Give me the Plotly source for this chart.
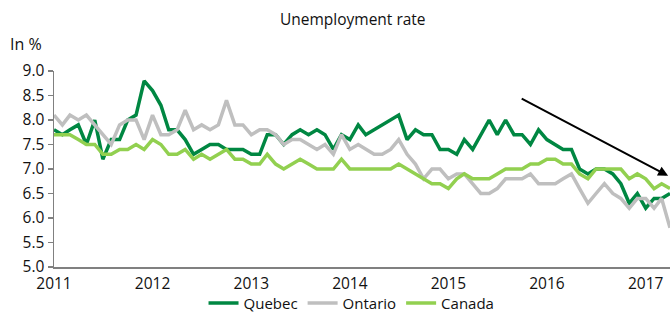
import plotly.graph_objects as go
import pandas as pd

# Monthly observations, January 2011 to April 2017
months = pd.date_range("2011-01-01", "2017-04-01", freq="MS").strftime("%Y-%m-%d").tolist()

quebec = [7.8, 7.7, 7.8, 7.9, 7.5, 8.0, 7.2, 7.6, 7.6, 8.0, 8.1, 8.8,
          8.6, 8.3, 7.8, 7.8, 7.6, 7.3, 7.4, 7.5, 7.5, 7.4, 7.4, 7.4,
          7.3, 7.3, 7.7, 7.7, 7.5, 7.7, 7.8, 7.7, 7.8, 7.7, 7.4, 7.7,
          7.6, 7.9, 7.7, 7.8, 7.9, 8.0, 8.1, 7.6, 7.8, 7.7, 7.7, 7.4,
          7.4, 7.3, 7.6, 7.4, 7.7, 8.0, 7.7, 8.0, 7.7, 7.7, 7.5, 7.8,
          7.6, 7.5, 7.4, 7.4, 7.0, 6.9, 7.0, 7.0, 6.9, 6.7, 6.3, 6.5,
          6.2, 6.4, 6.4, 6.5]

ontario = [8.1, 7.9, 8.1, 8.0, 8.1, 7.9, 7.7, 7.5, 7.9, 8.0, 8.0, 7.6,
           8.1, 7.7, 7.7, 7.8, 8.2, 7.8, 7.9, 7.8, 7.9, 8.4, 7.9, 7.9,
           7.7, 7.8, 7.8, 7.7, 7.5, 7.6, 7.6, 7.5, 7.4, 7.5, 7.3, 7.7,
           7.4, 7.5, 7.4, 7.3, 7.3, 7.4, 7.6, 7.3, 7.1, 6.8, 7.0, 7.0,
           6.8, 6.9, 6.9, 6.7, 6.5, 6.5, 6.6, 6.8, 6.8, 6.8, 6.9, 6.7,
           6.7, 6.7, 6.8, 6.9, 6.6, 6.3, 6.5, 6.7, 6.5, 6.4, 6.2, 6.4,
           6.4, 6.2, 6.4, 5.8]

canada = [7.7, 7.7, 7.7, 7.6, 7.5, 7.5, 7.3, 7.3, 7.4, 7.4, 7.5, 7.4,
          7.6, 7.5, 7.3, 7.3, 7.4, 7.2, 7.3, 7.2, 7.3, 7.4, 7.2, 7.2,
          7.1, 7.1, 7.3, 7.1, 7.0, 7.1, 7.2, 7.1, 7.0, 7.0, 7.0, 7.2,
          7.0, 7.0, 7.0, 7.0, 7.0, 7.0, 7.1, 7.0, 6.9, 6.8, 6.7, 6.7,
          6.6, 6.8, 6.9, 6.8, 6.8, 6.8, 6.9, 7.0, 7.0, 7.0, 7.1, 7.1,
          7.2, 7.2, 7.1, 7.1, 6.9, 6.8, 7.0, 7.0, 7.0, 7.0, 6.8, 6.9,
          6.8, 6.6, 6.7, 6.6]

year_ticks = ["2011-01-01", "2012-01-01", "2013-01-01", "2014-01-01",
              "2015-01-01", "2016-01-01", "2017-01-01"]
year_labels = ["2011", "2012", "2013", "2014", "2015", "2016", "2017"]
y_ticks = [5.0, 5.5, 6.0, 6.5, 7.0, 7.5, 8.0, 8.5, 9.0]

# Trend arrow (start / end in data coordinates)
arrow_start = ("2015-09-24", 8.45)
arrow_end = ("2017-03-25", 6.86)

FONT = "Open Sans"
TXT = "#111111"
AX = "#808080"
W, H = 670, 330  # page shows the top 315px

fig = go.Figure()
fig.add_trace(go.Scatter(x=months, y=quebec, name="Quebec", mode="lines",
                         line=dict(color="#008742", width=3.5)))
fig.add_trace(go.Scatter(x=months, y=ontario, name="Ontario", mode="lines",
                         line=dict(color="#BFBFBF", width=3.5)))
fig.add_trace(go.Scatter(x=months, y=canada, name="Canada", mode="lines",
                         line=dict(color="#92D050", width=3.5)))

fig.add_annotation(x=arrow_end[0], y=arrow_end[1], ax=arrow_start[0], ay=arrow_start[1],
                   xref="x", yref="y", axref="x", ayref="y", text="",
                   showarrow=True, arrowhead=2, arrowsize=1, arrowwidth=2,
                   arrowcolor="black")

fig.add_annotation(text="In %", xref="paper", yref="paper", x=-0.075, y=1.138,
                   xanchor="left", yanchor="middle", showarrow=False,
                   font=dict(family=FONT, size=16, color=TXT))

fig.update_layout(
    width=W, height=H,
    margin=dict(l=54, r=0, t=71, b=H - 267, autoexpand=False),
    paper_bgcolor="white", plot_bgcolor="white",
    font=dict(family=FONT, size=16, color=TXT),
    title=dict(text="Unemployment rate", xref="paper", x=0.485, xanchor="center",
               y=1 - 20 / H, yanchor="middle",
               font=dict(family=FONT, size=15.5, color=TXT)),
    showlegend=True,
    legend=dict(orientation="h", xref="paper", x=0.483, xanchor="center",
                y=-0.185, yanchor="middle", font=dict(family=FONT, size=15, color=TXT),
                itemwidth=30, tracegroupgap=0, bgcolor="rgba(0,0,0,0)"),
)
fig.update_xaxes(type="date", range=["2011-01-01", "2017-04-01"],
                 tickvals=year_ticks, ticktext=year_labels,
                 showgrid=False, zeroline=False, showline=True,
                 linecolor=AX, linewidth=1.5, ticks="", ticklabelstandoff=2,
                 tickfont=dict(family=FONT, size=15.5, color=TXT))
fig.update_yaxes(range=[5, 9], tickvals=y_ticks, tickformat=".1f",
                 showgrid=False, zeroline=False, showline=True,
                 linecolor=AX, linewidth=1.5, ticks="outside", ticklen=5,
                 tickcolor=AX, tickwidth=1.5,
                 tickfont=dict(family=FONT, size=15.5, color=TXT))

fig.write_html("out.html",
               config={"displayModeBar": False, "staticPlot": True},
               post_script="document.body.style.margin='0';"
                           "document.body.style.overflow='hidden';")
